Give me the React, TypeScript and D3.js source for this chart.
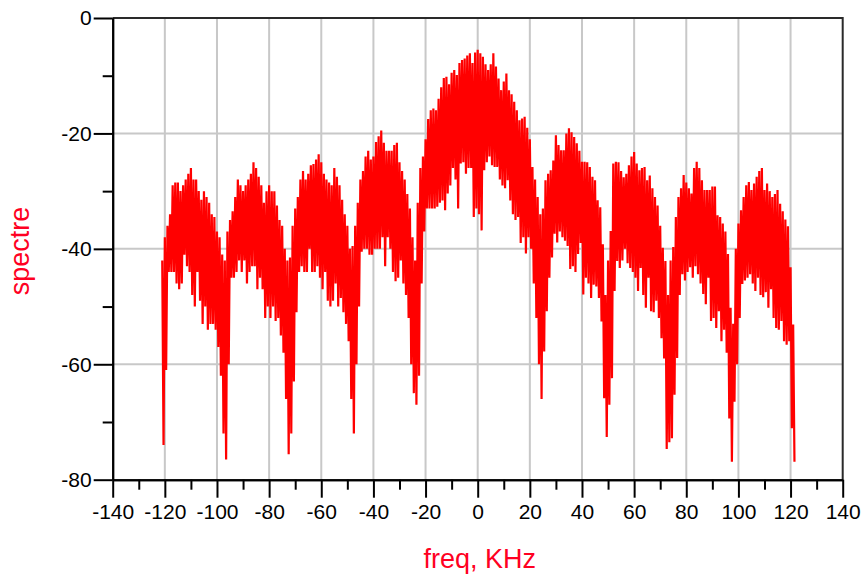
import React, { useEffect, useRef } from "react";
import * as d3 from "d3";

// frequency bins, kHz (1 kHz steps across the trace)
const freqBins = d3.range(-121, 122);

// upper edge of the spectrum trace per bin, dB
const topLevel = [
  -42, -38, -36, -34, -29, -28.5, -28.5, -30, -29, -28,
  -27, -26, -28, -28, -30, -31.5, -30, -31, -32, -34,
  -34.5, -37, -38, -41, -42, -37, -35, -33.5, -31, -28,
  -29, -30, -29, -28, -27, -25, -26, -27.5, -29, -32,
  -30, -29, -30, -30, -32.5, -35, -36, -40, -42, -41.5,
  -36, -33, -31, -28, -26.5, -28, -27, -25.5, -25.3, -24.5,
  -23.6, -25, -27, -28, -28.5, -29, -26, -27.5, -29, -31.5,
  -34, -36, -40, -39.5, -36, -32, -28, -26.5, -24, -23,
  -24.5, -24, -21.5, -20.5, -19.5, -21.6, -23, -23, -23, -22,
  -21.6, -25, -26.5, -28, -30.5, -33, -38, -42, -32, -26,
  -24, -21, -17.5, -16, -15.7, -16, -14, -12, -10.4, -10.2,
  -11.5, -9.5, -9, -9.9, -7.8, -7.3, -7, -6.5, -6.1, -7.8,
  -6, -5.5, -6.1, -6.7, -8, -9, -8, -6.1, -8.4, -10.5,
  -12.5, -11, -9.6, -12.5, -13.2, -14.5, -16, -17.7, -17.4, -17.1,
  -19, -21, -25.8, -28, -31, -34, -33, -28.1, -27, -26.4,
  -24.7, -20.3, -22, -22.9, -22.9, -20, -19.1, -19.8, -20.6, -21.7,
  -23, -24.9, -24.9, -25, -25.8, -27.5, -28.1, -31.6, -32.8, -39.2,
  -48, -42, -36.9, -25.2, -24.9, -25, -26.5, -27.6, -27, -25.5,
  -24, -23.2, -25.2, -26.4, -26, -25.8, -28.1, -27.3, -29.5, -31,
  -32.5, -36, -39.8, -42.1, -48, -42, -39.7, -34.5, -31, -29.5,
  -27.2, -28.5, -29.5, -30.4, -26, -24.9, -26, -28.1, -29.8, -29.8,
  -29.8, -29.2, -29.2, -34.2, -34.5, -35.6, -37, -40.9, -50.2, -53,
  -40, -35.6, -33.3, -31, -29, -28.4, -29.8, -28.7, -27.5, -26.5,
  -26, -29.8, -28.7, -30, -31, -30.5, -29.8, -32.2, -33.5, -34.9,
  -36.1, -43.2, -53.1,
];

// lower edge of the spectrum trace per bin, dB
const bottomLevel = [
  -74, -61, -44, -44, -44, -46, -47, -46, -41, -43,
  -44, -48, -50, -44, -49, -53, -50, -54, -53, -53,
  -54, -57, -62, -72, -76.5, -60, -45, -45, -44, -42,
  -44, -42, -46, -44, -43, -43, -47, -45, -47, -52,
  -50, -52, -50, -52.5, -52, -55, -58, -66, -75.6, -72,
  -63, -51, -44, -43, -44, -44, -40, -44, -44, -43,
  -45, -47, -44, -49, -50, -49, -46, -50, -48.5, -51,
  -53, -56, -66, -72, -60, -50, -40.5, -40, -40, -41,
  -41, -40, -40, -40, -38, -43, -38, -40, -44, -45.6,
  -45, -42, -46, -48, -52, -60, -65, -67, -62, -46,
  -37, -33, -33, -33, -33, -32.7, -32, -31.6, -33.3, -30.4,
  -29, -26, -28, -33, -25.2, -25, -27, -26, -26, -34.5,
  -33, -34, -36.8, -26.4, -25, -24, -25.5, -25.8, -25.8, -28,
  -29, -29.5, -28.1, -31.6, -34, -35, -34.5, -39, -38, -40.8,
  -38, -40, -46, -52, -60, -66, -57.8, -50.8, -45, -41.5,
  -37.4, -38.9, -37, -38, -38.6, -39.5, -43.5, -43, -44, -40.9,
  -39, -47.9, -45, -46, -48.5, -46.2, -46.5, -48.5, -52.6, -65.9,
  -72.6, -67, -62.4, -47.3, -42.1, -43.3, -42, -40, -42.5, -43.3,
  -44, -45, -47.3, -43.3, -48, -50.2, -45, -50.8, -51, -49,
  -52, -55.5, -59, -74.7, -73.5, -72.8, -65.3, -58.9, -48, -44.4,
  -45.5, -44, -43.2, -45, -43, -44.4, -46, -47.8, -49.6, -45,
  -52.5, -52, -53.7, -50.8, -56, -54, -58, -69.4, -76.9, -66.5,
  -60, -52, -46.1, -45.5, -45, -44.4, -46, -47.3, -45, -48,
  -48.4, -47.5, -50.2, -47, -52, -53.7, -54, -52.5, -56, -56.6,
  -56, -71.1, -76.9,
];

const xMajor = d3.range(-140, 141, 20);
const xMinor = d3.range(-130, 131, 20);
const yMajor = [0, -20, -40, -60, -80];
const yMinor = [-10, -30, -50, -70];

const WIDTH = 862;
const HEIGHT = 574;
const FONT = "'Liberation Sans', Arial, sans-serif";

const Spectrum: React.FC = () => {
  const svgRef = useRef<SVGSVGElement | null>(null);

  useEffect(() => {
    if (!svgRef.current) return;
    const svg = d3.select(svgRef.current);
    svg.selectAll("*").remove();

    const left = 112.7;
    const right = 842.7;
    const top = 18;
    const bottom = 479.7;

    const x = d3.scaleLinear().domain([-140, 140]).range([left, right]);
    const y = d3.scaleLinear().domain([-80, 0]).range([bottom, top]);

    // grid (under the trace)
    const grid = svg.append("g").attr("stroke", "#c8c8c8").attr("stroke-width", 2);
    xMajor
      .filter((v) => v > -140 && v < 140)
      .forEach((v) => {
        grid.append("line").attr("x1", x(v)).attr("x2", x(v)).attr("y1", top).attr("y2", bottom);
      });
    yMajor
      .filter((v) => v < 0 && v > -80)
      .forEach((v) => {
        grid.append("line").attr("x1", left).attr("x2", right).attr("y1", y(v)).attr("y2", y(v));
      });

    // trace: zigzag between upper and lower edge of each bin
    const pts: [number, number][] = [];
    freqBins.forEach((f, i) => {
      pts.push([f, topLevel[i]]);
      pts.push([f + 0.5, bottomLevel[i]]);
    });
    const line = d3
      .line<[number, number]>()
      .x((d) => x(d[0]))
      .y((d) => y(d[1]));

    svg
      .append("path")
      .datum(pts)
      .attr("fill", "none")
      .attr("stroke", "#ff0000")
      .attr("stroke-width", 2.2)
      .attr("stroke-linejoin", "bevel")
      .attr("d", line);

    // top and right frame
    svg
      .append("path")
      .attr("d", `M${left},${top}H${right}V${bottom}`)
      .attr("fill", "none")
      .attr("stroke", "#2a2a2a")
      .attr("stroke-width", 2);

    const styleAxis = (g: d3.Selection<SVGGElement, unknown, null, undefined>) => {
      g.select(".domain").attr("stroke", "#000").attr("stroke-width", 2);
      g.selectAll(".tick line").attr("stroke", "#000").attr("stroke-width", 2);
      g.selectAll(".tick text")
        .attr("fill", "#000")
        .style("font-family", FONT)
        .style("font-size", "21px");
    };

    const label = (d: d3.NumberValue) => String(d);

    // x axis
    svg
      .append("g")
      .attr("transform", `translate(0,${bottom})`)
      .call(d3.axisBottom(x).tickValues(xMinor).tickSize(10).tickSizeOuter(0).tickFormat(() => ""))
      .call(styleAxis);
    svg
      .append("g")
      .attr("transform", `translate(0,${bottom})`)
      .call(d3.axisBottom(x).tickValues(xMajor).tickSize(18).tickSizeOuter(0).tickPadding(6).tickFormat(label))
      .call(styleAxis);

    // y axis
    svg
      .append("g")
      .attr("transform", `translate(${left},0)`)
      .call(d3.axisLeft(y).tickValues(yMinor).tickSize(10).tickSizeOuter(0).tickFormat(() => ""))
      .call(styleAxis);
    svg
      .append("g")
      .attr("transform", `translate(${left},0)`)
      .call(d3.axisLeft(y).tickValues(yMajor).tickSize(19).tickSizeOuter(0).tickPadding(2).tickFormat(label))
      .call(styleAxis);

    // axis titles
    svg
      .append("text")
      .attr("x", (left + right) / 2 + 2)
      .attr("y", 568)
      .attr("text-anchor", "middle")
      .attr("fill", "#ff0022")
      .style("font-family", FONT)
      .style("font-size", "27px")
      .text("freq, KHz");

    svg
      .append("text")
      .attr("transform", "translate(29,251) rotate(-90)")
      .attr("text-anchor", "middle")
      .attr("fill", "#ff0022")
      .style("font-family", FONT)
      .style("font-size", "27px")
      .text("spectre");
  }, []);

  return (
    <svg
      ref={svgRef}
      width={WIDTH}
      height={HEIGHT}
      style={{ position: "absolute", left: 0, top: 0, background: "#fff" }}
    ></svg>
  );
};

export default function App() {
  return <Spectrum />;
}
